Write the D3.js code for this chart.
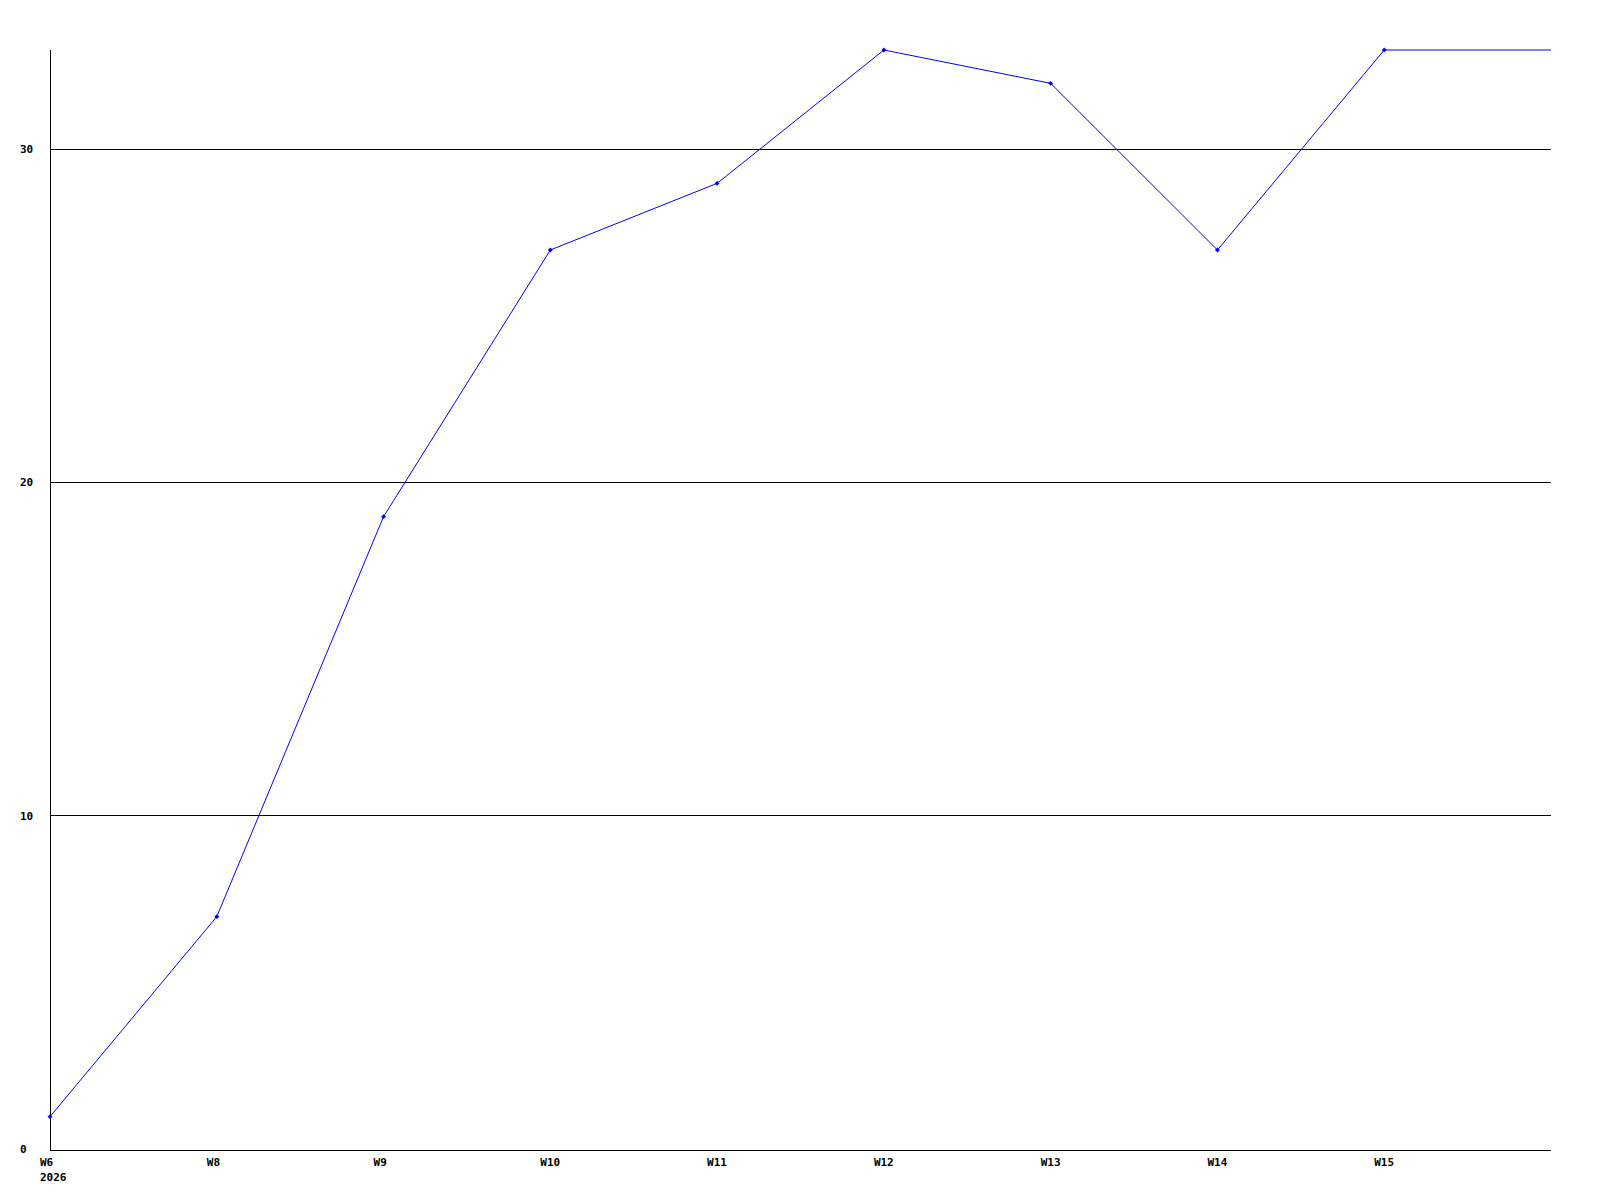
<!DOCTYPE html>
<html>
<head>
<meta charset="utf-8">
<script src="https://cdn.jsdelivr.net/npm/d3@7"></script>
<style>
  body { margin: 0; background: #fff; }
  text { font-family: "DejaVu Sans Mono", monospace; font-size: 11px; font-weight: bold; fill: #000; }
</style>
</head>
<body>
<svg id="chart" width="1600" height="1200"></svg>
<script>
// weeks on the x axis, last slot is the running week (no marker, no label)
var weeks = ["W6", "W8", "W9", "W10", "W11", "W12", "W13", "W14", "W15", ""];
var counts = [1, 7, 19, 27, 29, 33, 32, 27, 33, 33];
var hasMarker = [true, true, true, true, true, true, true, true, true, false];
var yTicks = [0, 10, 20, 30];
var yearLabel = "2026";

var plotLeft = 50, plotRight = 1551, plotTop = 50, plotBottom = 1150;

var svg = d3.select("#chart");

var x = d3.scaleLinear()
    .domain([0, weeks.length - 1])
    .range([plotLeft, plotRight]);

var y = d3.scaleLinear()
    .domain([0, 33])
    .range([plotBottom, plotTop]);

// grid lines
svg.append("g")
    .selectAll("line")
    .data(yTicks.filter(function(d) { return d > 0; }))
    .enter()
    .append("line")
    .attr("x1", plotLeft)
    .attr("x2", plotRight)
    .attr("y1", function(d) { return Math.floor(y(d)) - 0.5; })
    .attr("y2", function(d) { return Math.floor(y(d)) - 0.5; })
    .attr("stroke", "#000")
    .attr("shape-rendering", "crispEdges");

// axes
svg.append("line")
    .attr("x1", plotLeft + 0.5).attr("x2", plotLeft + 0.5)
    .attr("y1", plotTop).attr("y2", plotBottom + 1)
    .attr("stroke", "#000").attr("shape-rendering", "crispEdges");
svg.append("line")
    .attr("x1", plotLeft).attr("x2", plotRight)
    .attr("y1", plotBottom + 0.5).attr("y2", plotBottom + 0.5)
    .attr("stroke", "#000").attr("shape-rendering", "crispEdges");

// y labels
svg.append("g")
    .selectAll("text")
    .data(yTicks)
    .enter()
    .append("text")
    .attr("x", 20)
    .attr("y", function(d) { return y(d) - 1; })
    .attr("dy", "0.35em")
    .text(function(d) { return d; });

// x labels
svg.append("g")
    .selectAll("text")
    .data(weeks)
    .enter()
    .append("text")
    .attr("x", function(d, i) { return x(i) - 10; })
    .attr("y", plotBottom + 12)
    .attr("dy", "0.35em")
    .text(function(d) { return d; });

svg.append("text")
    .attr("x", x(0) - 10)
    .attr("y", plotBottom + 27)
    .attr("dy", "0.35em")
    .text(yearLabel);

// the line
var line = d3.line()
    .x(function(d, i) { return x(i); })
    .y(function(d) { return y(d); });

svg.append("path")
    .datum(counts)
    .attr("d", line)
    .attr("fill", "none")
    .attr("stroke", "#0000ff")
    .attr("stroke-width", 1);

// markers: small square diamonds
var pts = counts.map(function(d, i) { return { i: i, v: d }; })
    .filter(function(p) { return hasMarker[p.i]; });

svg.append("g")
    .selectAll("path")
    .data(pts)
    .enter()
    .append("path")
    .attr("transform", function(p) { return "translate(" + x(p.i) + "," + y(p.v) + ") rotate(45)"; })
    .attr("d", d3.symbol().type(d3.symbolSquare).size(12))
    .attr("fill", "#0000ff");
</script>
</body>
</html>
